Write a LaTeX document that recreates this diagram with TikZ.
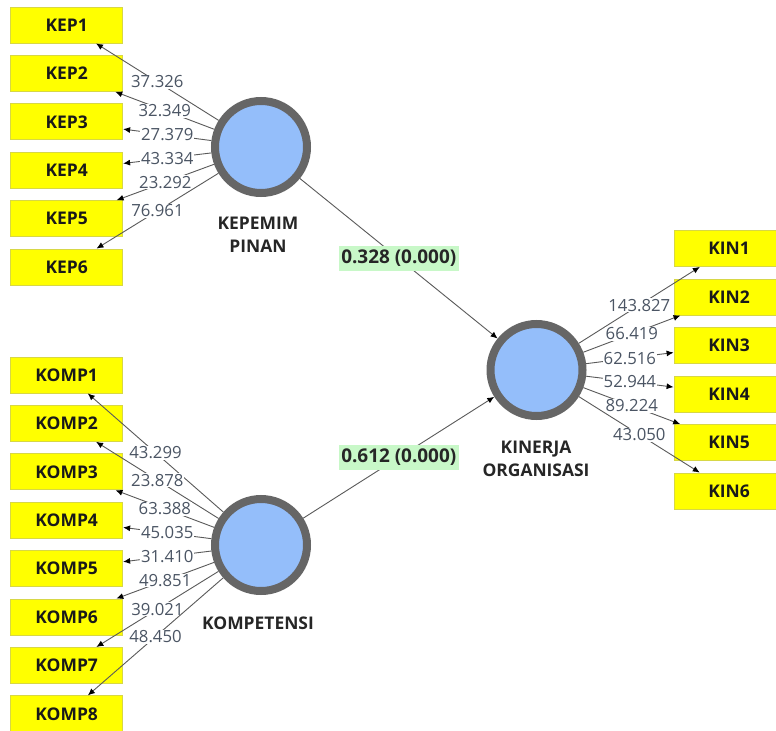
\documentclass[tikz,border=0pt]{standalone}
\usepackage{fontspec}
\setmainfont{Open Sans}
\usetikzlibrary{arrows.meta}
\definecolor{boxyellow}{RGB}{255,255,0}
\definecolor{boxedge}{RGB}{215,215,70}
\definecolor{lvfill}{RGB}{148,190,250}
\definecolor{lvring}{RGB}{102,102,102}
\definecolor{linegray}{RGB}{90,90,90}
\definecolor{numcol}{RGB}{75,85,100}
\definecolor{pathgreen}{RGB}{200,248,200}
\begin{document}
\begin{tikzpicture}[x=1bp,y=-1bp,
 ind/.style={draw=boxedge, fill=boxyellow, line width=0.8bp, minimum width=112bp, minimum height=36bp, inner sep=0, font=\fontsize{17.5}{19}\selectfont\bfseries, text=black!90},
 indr/.style={ind, minimum width=110bp},
 lv/.style={circle, draw=lvring, fill=lvfill, line width=8bp, minimum size=92bp, inner sep=0},
 lvlabel/.style={font=\fontsize{17.5}{23.5}\selectfont\bfseries, align=center, text=black!85},
 load/.style={draw=linegray, line width=0.9bp, -{Latex[length=7bp,width=6bp,color=black]}},
 num/.style={fill=white, inner sep=0.8bp, font=\fontsize{16.8}{18}\selectfont, text=numcol},
 coef/.style={fill=pathgreen, inner xsep=2.5bp, inner ysep=4bp, font=\fontsize{19}{21}\selectfont\bfseries, text=black!85}
]
\useasboundingbox (0,0) rectangle (776,731);
\fill[white] (0,0) rectangle (776,731);

% latent variables
\node[lv] (kep) at (261,147) {};
\node[lv] (komp) at (261,545) {};
\node[lv] (kin) at (536.5,370) {};
\node[lvlabel] (kepl) at (258,235) {KEPEMIM\\PINAN};
\node[lvlabel] (kompl) at (258,623) {KOMPETENSI};
\node[lvlabel] (kinl) at (536,459) {KINERJA\\ORGANISASI};

% indicators
\foreach \i/\y in {1/25,2/73.4,3/121.8,4/170.2,5/218.6,6/267}
  \node[ind] (kep\i) at (66.7,\y) {KEP\i};
\foreach \i/\y in {1/375,2/423.4,3/471.8,4/520.2,5/568.6,6/617,7/665.4,8/713.8}
  \node[ind] (komp\i) at (66.7,\y) {KOMP\i};
\foreach \i/\y in {1/248.5,2/297,3/345.5,4/394,5/442.5,6/491}
  \node[indr] (kin\i) at (729,\y) {KIN\i};

% loadings
\foreach \i/\v in {1/37.326,2/32.349,3/27.379,4/43.334,5/23.292,6/76.961}
  \draw[load] (kep) -- (kep\i) node[num,midway] (lkep\i) {\v};
\foreach \i/\v in {1/43.299,2/23.878,3/63.388,4/45.035,5/31.410,6/49.851,7/39.021,8/48.450}
  \draw[load] (komp) -- (komp\i) node[num,midway] (lkomp\i) {\v};
\foreach \i/\v in {1/143.827,2/66.419,3/62.516,4/52.944,5/89.224,6/43.050}
  \draw[load] (kin) -- (kin\i) node[num,midway] (lkin\i) {\v};

% structural paths
\draw[load] (kep) -- (kin) node[coef,midway] (p1) {0.328 (0.000)};
\draw[load] (komp) -- (kin) node[coef,midway] (p2) {0.612 (0.000)};
\end{tikzpicture}
\end{document}
